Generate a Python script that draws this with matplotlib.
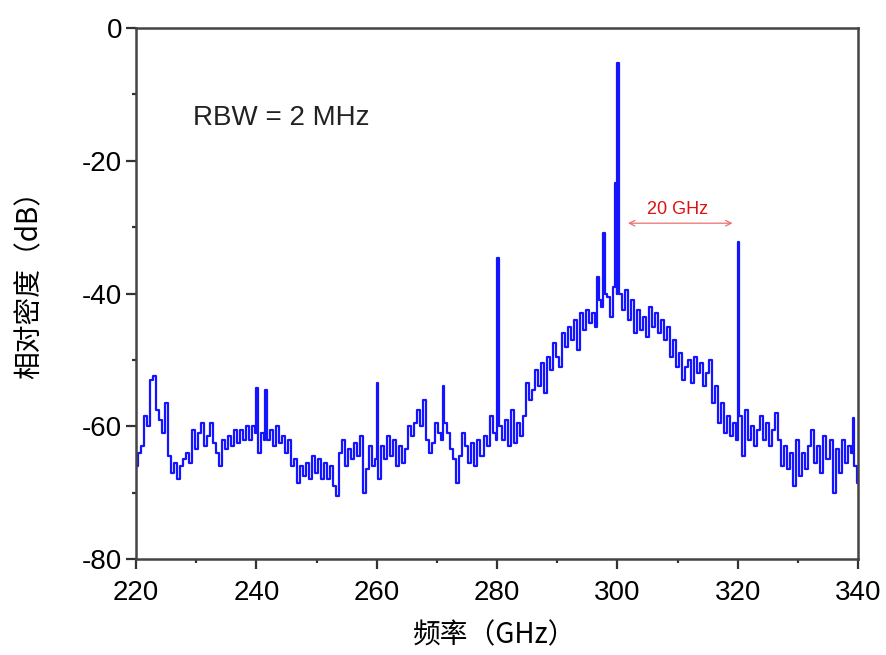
import numpy as np
import matplotlib
matplotlib.use("Agg")
import matplotlib.pyplot as plt
from matplotlib.ticker import MultipleLocator

plt.rcParams['font.family'] = ['Liberation Sans', 'DejaVu Sans']
plt.rcParams['axes.unicode_minus'] = False

# spectrum, 0.5 GHz steps from 220 to 340 GHz
freq = np.arange(220, 340.25, 0.5)
level = [
    -66, -64, -63, -58.5, -60, -53, -52.5, -57.5, -59, -61,          # 220
    -56.5, -64.5, -67, -65.5, -68, -66, -65, -64, -65.5, -60.5,      # 225
    -63.5, -61, -59.5, -63, -61.5, -59.5, -62.5, -64, -66, -62,      # 230
    -63.5, -61.5, -63, -60.5, -62.5, -60.5, -62, -60, -62, -60,      # 235
    -61, -64, -61, -62, -62, -60.5, -63, -60, -62.5, -61.5,          # 240
    -64, -62, -66, -65, -68.5, -66, -67.5, -65.5, -68, -64.5,        # 245
    -67, -65, -68, -65.5, -68, -66, -69, -70.5, -64, -62,            # 250
    -66, -63.5, -65, -62.5, -64.5, -61.5, -70, -66.5, -63, -66,      # 255
    -65, -68, -63, -65, -61.5, -64.5, -62, -66, -63, -65.5,          # 260
    -63.5, -60, -61.5, -59.5, -57.5, -60, -56, -62, -64, -62.5,      # 265
    -59.5, -61, -62, -59.5, -61, -63.5, -65, -68.5, -64.5, -61,      # 270
    -63, -65.5, -62.5, -66, -62, -64.5, -61.5, -63, -58.5, -61,      # 275
    -62, -60, -62, -59, -63, -57.5, -62.5, -59.5, -61.5, -58.5,      # 280
    -53.5, -56, -54.5, -51.5, -54, -50.5, -55, -49.5, -51.5, -47.5,  # 285
    -49.5, -51, -46, -48, -45, -47, -44, -48.5, -43, -45.5,          # 290
    -42.5, -44.5, -43, -45, -41, -42, -40, -40.5, -43.5, -39,        # 295
    -40, -40, -42.5, -39.5, -44, -41, -46, -42.5, -45.5, -43.5,      # 300
    -46.5, -42, -45, -43, -46, -44, -47, -45, -49.5, -47,            # 305
    -51, -49, -53, -51, -50, -53.5, -49.5, -52, -50.5, -54,          # 310
    -52, -50, -56.5, -54, -59.5, -56.5, -61, -58.5, -61.5, -59.5,    # 315
    -62, -58.5, -64.5, -57.5, -62, -60, -63, -60.5, -58.5, -62,      # 320
    -59.5, -63, -60.5, -58, -62, -66, -63, -66.5, -64, -69,          # 325
    -62, -67.5, -64, -66.5, -63, -60.5, -65.5, -63, -67, -61.5,      # 330
    -65, -62, -70, -63.5, -67, -62, -65.5, -63, -64, -66,            # 335
    -68.5,                                                           # 340
]

# narrow spurs on top of the noise
spur_freq = [240, 241.5, 260, 271, 280, 296.8, 297.8, 299.7, 299.85, 300, 320, 339.2]
spur_level = [-54.3, -54.5, -53.5, -53.9, -34.6, -37.5, -30.9, -23.3, -23.3, -5.3, -32.2, -58.7]

f_all = np.concatenate([freq, spur_freq])
l_all = np.concatenate([level, spur_level])
order = np.argsort(f_all, kind='stable')

fig = plt.figure(figsize=(8.86, 6.55), dpi=100)
ax = fig.add_axes([0.1535, 0.1466, 0.815, 0.8105])

ax.plot(f_all[order], l_all[order], color='#1414ff', lw=1.6, drawstyle='steps-mid')

ax.set_xlim(220, 340)
ax.set_ylim(-80, 0)
ax.xaxis.set_major_locator(MultipleLocator(20))
ax.xaxis.set_minor_locator(MultipleLocator(10))
ax.yaxis.set_major_locator(MultipleLocator(20))
ax.yaxis.set_minor_locator(MultipleLocator(10))
ax.tick_params(which='major', direction='out', length=7, width=1.6,
               labelsize=20, color='#333333', pad=4)
ax.tick_params(which='minor', direction='out', length=3, width=1.6, color='#333333')
ax.tick_params(axis='x', which='major', pad=8)
ax.tick_params(axis='y', which='major', pad=3)
for s in ax.spines.values():
    s.set_linewidth(1.8)
    s.set_color('#444444')

ax.text(229.5, -13.6, 'RBW = 2 MHz', fontsize=20, va='center', ha='left', color='#222222')

# 20 GHz spacing marker
ax.annotate('', xy=(301.3, -29.4), xytext=(319.6, -29.4),
            arrowprops=dict(arrowstyle='<->', color='#e87070', lw=0.9))
ax.text(310, -27.4, '20 GHz', color='#e01010', fontsize=13, ha='center', va='center')

cjk = ['Noto Sans CJK SC', 'DejaVu Sans']
ax.set_xlabel('频率（GHz）', fontsize=20, family=cjk, va='center')
ax.xaxis.set_label_coords(0.497, -0.143)
ax.set_ylabel('相对密度（dB）', fontsize=20, family=cjk, va='center')
ax.yaxis.set_label_coords(-0.147, 0.529)

fig.savefig('out.png', dpi=100)
